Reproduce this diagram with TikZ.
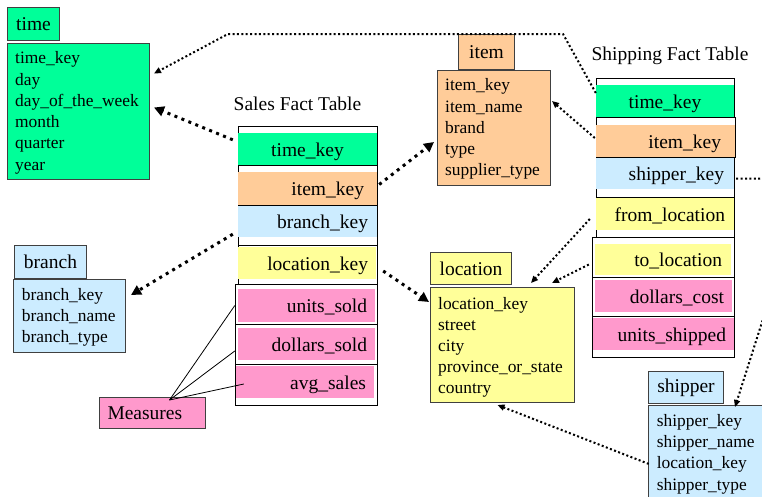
\documentclass[tikz,border=0pt]{standalone}
\usepackage{fontspec}
\setmainfont{Liberation Serif}
\usetikzlibrary{arrows.meta, calc}
\definecolor{timegreen}{RGB}{0, 255, 153}
\definecolor{itemorange}{RGB}{255, 204, 153}
\definecolor{branchblue}{RGB}{204, 236, 255}
\definecolor{locyellow}{RGB}{255, 255, 153}
\definecolor{measpink}{RGB}{255, 153, 204}

\begin{document}
\begin{tikzpicture}[x=1pt, y=-1pt,
    big/.style={font=\fontsize{19.5}{23}\selectfont},
    small/.style={font=\fontsize{17.4}{21}\selectfont},
    head/.style={big, draw=black!75, line width=1pt, inner sep=0pt, anchor=north west},
    dimbox/.style={draw=black!75, line width=1pt, inner sep=0pt, anchor=north west},
    attr/.style={small, anchor=west, inner sep=0pt, text height=13pt, text depth=3pt},
    frame/.style={draw=black, fill=white, line width=1pt},
    field/.style={big, inner ysep=0pt, align=right, text height=15pt, text depth=1pt},
    fatlink/.style={line width=3pt, dash pattern=on 3pt off 4.5pt, -{Triangle[length=10pt,width=10pt]}},
    thinlink/.style={line width=2pt, dash pattern=on 2pt off 2.4pt, -{Triangle[length=7pt,width=6pt]}}]
    \useasboundingbox (0,0) rectangle (762,496);
    \clip (0,0) rectangle (762,496);

    % dimension tables
    \node[head, fill=timegreen, minimum width=52pt, minimum height=33pt] (timehead) at (7,7) {time};
    \node[dimbox, fill=timegreen, minimum width=142pt, minimum height=136pt] (timebody) at (7,43) {};
    \foreach \a [count=\i] in {time\_key, day, day\_of\_the\_week, month, quarter, year}
      \node[attr] (time-\i) at (15, 58.7+21.3*\i-21.3) {\a};

    \node[head, fill=itemorange, minimum width=56pt, minimum height=35pt] (itemhead) at (458,34) {item};
    \node[dimbox, fill=itemorange, minimum width=113pt, minimum height=115pt] (itembody) at (437,70) {};
    \foreach \a [count=\i] in {item\_key, item\_name, brand, type, supplier\_type}
      \node[attr] (item-\i) at (445, 85.7+21.3*\i-21.3) {\a};

    \node[head, fill=branchblue, minimum width=72pt, minimum height=33pt] (branchhead) at (14,245) {branch};
    \node[dimbox, fill=branchblue, minimum width=112pt, minimum height=73pt] (branchbody) at (13,279) {};
    \foreach \a [count=\i] in {branch\_key, branch\_name, branch\_type}
      \node[attr] (branch-\i) at (21.7, 295.7+21*\i-21) {\a};

    \node[head, fill=locyellow, minimum width=81pt, minimum height=32pt] (lochead) at (430,252) {location};
    \node[dimbox, fill=locyellow, minimum width=144pt, minimum height=115pt] (locbody) at (430,287) {};
    \foreach \a [count=\i] in {location\_key, street, city, province\_or\_state, country}
      \node[attr] (loc-\i) at (438, 304+21.2*\i-21.2) {\a};

    \node[head, fill=branchblue, minimum width=75pt, minimum height=32pt] (shiphead) at (648,371) {shipper};
    \node[dimbox, fill=branchblue, minimum width=160pt, minimum height=120pt] (shipbody) at (648,405) {};
    \foreach \a [count=\i] in {shipper\_key, shipper\_name, location\_key, shipper\_type}
      \node[attr] (ship-\i) at (656.7, 421.7+21.1*\i-21.1) {\a};

    % sales fact table
    \node[big] (salestitle) at (297.5,104) {Sales Fact Table};
    \draw[frame] (238,126) rectangle (377,165.5);
    \draw[frame] (238,165.5) rectangle (377,205);
    \draw[frame] (238,205) rectangle (377,245);
    \draw[frame] (238,245) rectangle (377,284);
    \draw[frame] (235,284) rectangle (377,324);
    \draw[frame] (235,324) rectangle (377,364);
    \draw[frame] (235,364) rectangle (377,405);
    \node[field, fill=timegreen, minimum width=139pt, minimum height=32pt, text width=119pt, inner xsep=10pt, align=center] (stime) at (307.5,149) {time\_key};
    \node[field, fill=itemorange, minimum width=139pt, minimum height=33pt, text width=113pt, inner xsep=13pt] (sitem) at (307.5,188.5) {item\_key};
    \node[field, fill=branchblue, minimum width=139pt, minimum height=31pt, text width=121pt, inner xsep=9pt] (sbranch) at (307.5,221.5) {branch\_key};
    \node[field, fill=locyellow, minimum width=138pt, minimum height=32pt, text width=122pt, inner xsep=8pt] (sloc) at (307,263) {location\_key};
    \node[field, fill=measpink, minimum width=137pt, minimum height=33pt, text width=121pt, inner xsep=8pt] (sunits) at (306.5,305.5) {units\_sold};
    \node[field, fill=measpink, minimum width=137pt, minimum height=32pt, text width=121pt, inner xsep=8pt] (sdollars) at (306.5,344) {dollars\_sold};
    \node[field, fill=measpink, minimum width=138pt, minimum height=32pt, text width=122pt, inner xsep=8pt] (savg) at (305,382) {avg\_sales};

    % shipping fact table
    \node[big] (shiptitle) at (670,56) {Shipping Fact Table};
    \draw[frame] (596,78) rectangle (734,117);
    \draw[frame] (596,117) rectangle (735,157);
    \draw[frame] (596,157) rectangle (734,197);
    \draw[frame] (596,197) rectangle (734,237);
    \draw[frame] (592,237) rectangle (734,277);
    \draw[frame] (592,277) rectangle (734,316);
    \draw[frame] (592,316) rectangle (734,357);
    \node[field, fill=timegreen, minimum width=138pt, minimum height=32pt, text width=118pt, inner xsep=10pt, align=center] (htime) at (665,101) {time\_key};
    \node[field, fill=itemorange, minimum width=139pt, minimum height=32pt, text width=111pt, inner xsep=14pt] (hitem) at (665.5,141) {item\_key};
    \node[field, fill=branchblue, minimum width=138pt, minimum height=31pt, text width=118pt, inner xsep=10pt] (hship) at (665,173.5) {shipper\_key};
    \node[field, fill=locyellow, minimum width=138pt, minimum height=32pt, text width=120pt, inner xsep=9pt] (hfrom) at (665,214) {from\_location};
    \node[field, fill=locyellow, minimum width=136pt, minimum height=31pt, text width=118pt, inner xsep=9pt] (hto) at (663,259.5) {to\_location};
    \node[field, fill=measpink, minimum width=137pt, minimum height=32pt, text width=121pt, inner xsep=8pt] (hcost) at (663.5,296) {dollars\_cost};
    \node[field, fill=measpink, minimum width=141pt, minimum height=32pt, text width=125pt, inner xsep=8pt] (hunits) at (663.5,334) {units\_shipped};

    % measures
    \node[big, draw=black!75, line width=1pt, fill=measpink, minimum width=106pt, minimum height=31pt, text width=90pt, inner xsep=8pt, align=left, anchor=north west] (measures) at (99,397) {Measures};
    \draw[line width=0.8pt] ($(measures.north)+(17,3)$) -- ($(sunits.west)+(-3,0)$);
    \draw[line width=0.8pt] ($(measures.north)+(17,3)$) -- ($(sdollars.west)+(-3,7)$);
    \draw[line width=0.8pt] ($(measures.north)+(17,3)$) -- ($(savg.west)+(8,2)$);

    % sales links
    \draw[fatlink] ($(stime.north west)+(-5,7)$) -- ($(timebody.east)+(4,-4)$);
    \draw[fatlink] ($(sitem.east)+(2,-4)$) -- ($(itembody.west)+(-3,14)$);
    \draw[fatlink] ($(sbranch.south west)+(-5,-3)$) -- ($(branchbody.north east)+(5,16)$);
    \draw[fatlink] ($(sloc.east)+(7,8)$) -- ($(locbody.north west)+(-1,15)$);

    % shipping links
    \draw[thinlink] ($(htime.west)+(0,-8)$) -- (563,34) -- (228,34) -- ($(timebody.east)+(4,-38)$);
    \draw[thinlink] ($(hitem.west)+(-1,-3)$) -- ($(itembody.east)+(1,-27)$);
    \draw[thinlink] ($(hship.east)+(2,5)$) -- (785,179) -- (785,250) -- ($(shipbody.north west)+(87,2)$);
    \draw[thinlink] ($(hfrom.west)+(-6,5)$) -- ($(locbody.north east)+(-44,-4)$);
    \draw[thinlink] ($(hto.west)+(-6,5)$) -- ($(locbody.north east)+(-23,-4)$);
    \draw[thinlink] ($(ship-3.west)+(-8,0)$) -- ($(locbody.south)+(-5,2)$);
\end{tikzpicture}
\end{document}
